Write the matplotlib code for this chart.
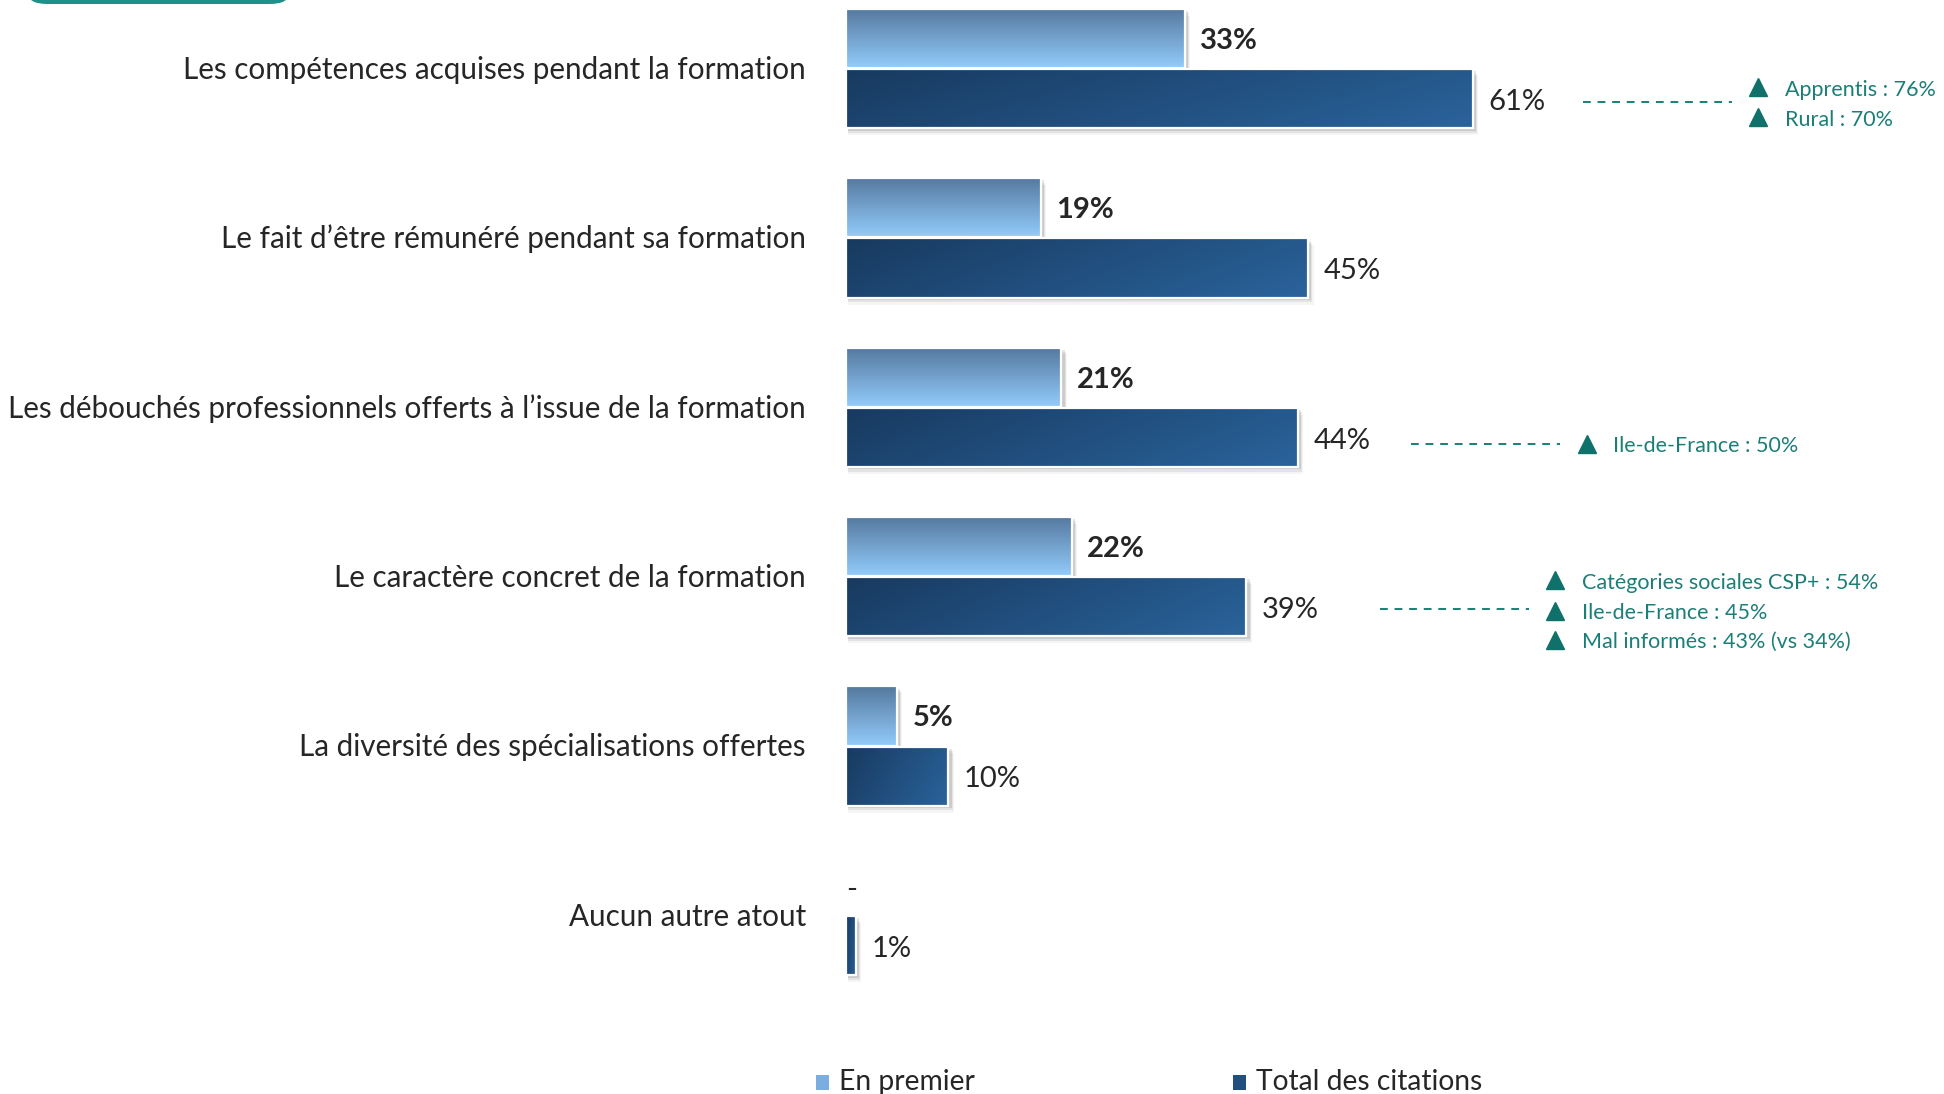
import matplotlib.pyplot as plt
import numpy as np
from matplotlib.patches import Rectangle, FancyBboxPatch
from matplotlib.colors import to_rgb

plt.rcParams['font.family'] = ['Lato', 'DejaVu Sans']

categories = ['Les compétences acquises pendant la formation',
              'Le fait d’être rémunéré pendant sa formation',
              'Les débouchés professionnels offerts à l’issue de la formation',
              'Le caractère concret de la formation',
              'La diversité des spécialisations offertes',
              'Aucun autre atout']
en_premier = [33, 19, 21, 22, 5, 0]
total = [61, 45, 44, 39, 10, 1]
legend_labels = ['En premier', 'Total des citations']

# annotations : (index categorie, lignes de texte)
notes = [(0, ['Apprentis : 76%', 'Rural : 70%']),
         (2, ['Ile-de-France : 50%']),
         (3, ['Catégories sociales CSP+ : 54%', 'Ile-de-France : 45%', 'Mal informés : 43% (vs 34%)'])]

W, H = 1944, 1094
fig = plt.figure(figsize=(W / 100, H / 100), dpi=100)
ax = fig.add_axes([0, 0, 1, 1])
ax.axis('off')

# echelle : 0% a 845 px, 10.28 px par %, groupes espaces de 169.4 px
px_per = 10.28
x0px = 845.5
xlim = (-x0px / px_per, (W - x0px) / px_per)
ylim = ((H - 68.5) / 169.4, -68.5 / 169.4)

teal = '#0f7169'
teal_txt = '#1b7f78'
txt_col = '#262626'
bh = 0.35
off = 0.178


def grad_light(n=40):
    c1, c2 = np.array(to_rgb('#55799f')), np.array(to_rgb('#92cbfa'))
    t = np.linspace(0, 1, n)[:, None, None]
    return c1 * (1 - t) + c2 * t


def grad_dark(n=30, m=60):
    c1, c2 = np.array(to_rgb('#183a60')), np.array(to_rgb('#2a639b'))
    yy, xx = np.mgrid[0:1:n * 1j, 0:1:m * 1j]
    t = np.clip(0.75 * xx + 0.25 * yy, 0, 1)[..., None]
    return c1 * (1 - t) + c2 * t


def draw_bar(v, yc, img):
    if v <= 0:
        return
    y0, y1 = yc - bh / 2, yc + bh / 2
    # ombre portee
    for k, a in enumerate([0.10, 0.07, 0.04]):
        d = (k + 1) * 0.45
        ax.add_patch(Rectangle((0.2, y0 + d * 0.03), v + d * 0.25, bh,
                               facecolor='black', alpha=a, lw=0, zorder=1))
    ax.imshow(img, extent=(0, v, y1, y0), origin='upper', aspect='auto',
              interpolation='bilinear', zorder=2)
    ax.add_patch(Rectangle((0, y0), v, bh, fill=False, edgecolor='white',
                           lw=1.6, zorder=3))


for i, cat in enumerate(categories):
    yl = i - off
    yd = i + off
    draw_bar(en_premier[i], yl, grad_light())
    draw_bar(total[i], yd, grad_dark())
    if en_premier[i] > 0:
        ax.text(en_premier[i] + 1.5, yl + 0.015, f'{en_premier[i]}%',
                fontsize=21, fontweight='bold', color=txt_col, va='center', ha='left')
    else:
        ax.text(0.1, yl + 0.03, '-', fontsize=21, color=txt_col, va='center', ha='left')
    ax.text(total[i] + 1.5, yd + 0.018, f'{total[i]}%', fontsize=21,
            color=txt_col, va='center', ha='left')
    ax.text(-3.85, i + 0.006, cat, fontsize=21.3, color=txt_col, va='center', ha='right')

# annotations a droite
note_pos = {0: (71.7, 0.195, 88.8, [0.112, 0.289]),
            2: (55.0, 2.214, 72.1, [2.214]),
            3: (52.0, 3.188, 69.0, [3.022, 3.200, 3.371])}
for idx, lines in notes:
    xd, yd, xt, ys = note_pos[idx]
    ax.plot([xd, xd + 14.5], [yd, yd], color=teal_txt, lw=1.4,
            ls=(0, (4, 3.5)), zorder=4)
    for line, yy in zip(lines, ys):
        ax.plot(xt, yy, marker='^', ms=13, color=teal, mec=teal, zorder=4)
        ax.text(xt + 2.6, yy + 0.014, line, fontsize=15.5, color=teal_txt,
                va='center', ha='left')

ax.set_xlim(*xlim)
ax.set_ylim(*ylim)

# bandeau teal en haut a gauche
fig.add_artist(FancyBboxPatch((28 / W, 1 - 4 / H), 261 / W, 30 / H,
                              boxstyle='round,pad=0,rounding_size=0.01',
                              transform=fig.transFigure, facecolor='#1f918b',
                              edgecolor='none'))

# legende
for (xs, lab, col) in [(816, legend_labels[0], '#7aaee0'), (1233, legend_labels[1], '#21507f')]:
    fig.add_artist(Rectangle((xs / W, 1 - 1090 / H), 13 / W, 15 / H,
                             transform=fig.transFigure, facecolor=col, edgecolor='none'))
    fig.text((xs + 23) / W, 1 - 1082 / H, lab, fontsize=20.3, color=txt_col,
             va='center', ha='left')

fig.savefig('out.png', dpi=100)
